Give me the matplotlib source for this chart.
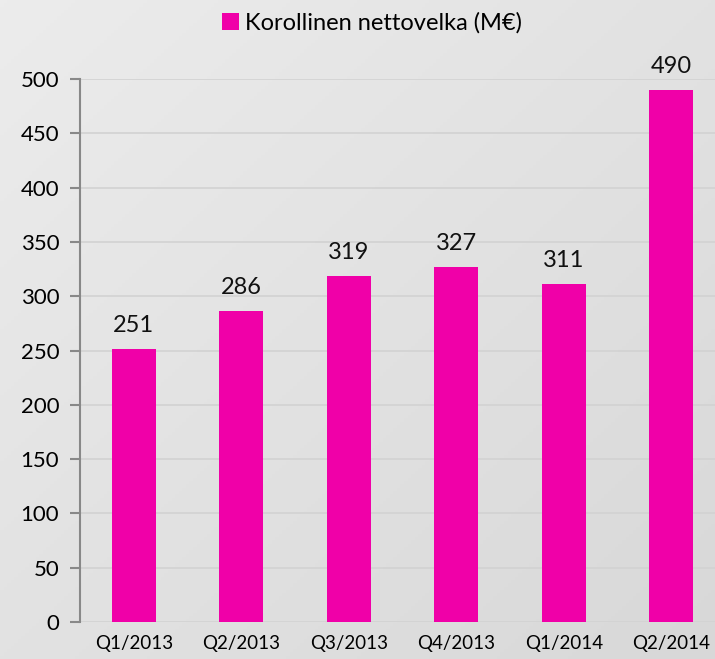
import numpy as np
import matplotlib.pyplot as plt
from matplotlib.colors import LinearSegmentedColormap

quarters = ['Q1/2013', 'Q2/2013', 'Q3/2013', 'Q4/2013', 'Q1/2014', 'Q2/2014']
values = [251, 286, 319, 327, 311, 490]
series_name = 'Korollinen nettovelka (M€)'

plt.rcParams['font.family'] = ['Lato', 'DejaVu Sans']

fig = plt.figure(figsize=(7.15, 6.59), dpi=100)

# light gray gradient background
bg = fig.add_axes([0, 0, 1, 1], zorder=0)
xx, yy = np.meshgrid(np.linspace(0, 1, 200), np.linspace(0, 1, 200))
grad = (xx + yy) / 2
cmap = LinearSegmentedColormap.from_list('bg', ['#ececec', '#d8d8d8'])
bg.imshow(grad, cmap=cmap, aspect='auto', extent=[0, 1, 0, 1], origin='upper')
bg.axis('off')

ax = fig.add_axes([0.112, 0.0561, 0.902, 0.824], zorder=1)
ax.patch.set_alpha(0)
x = np.arange(len(quarters))
bars = ax.bar(x, values, width=0.41, color='#f000a8', label=series_name, zorder=3)
for xi, v in zip(x, values):
    ax.text(xi, v + 12, str(v), ha='center', va='bottom', fontsize=17, color='#111111')

ax.set_ylim(0, 500)
ax.set_xlim(-0.5, 5.5)
ax.set_yticks(range(0, 501, 50))
ax.set_xticks(x)
ax.set_xticklabels(quarters, fontsize=13.5)
ax.tick_params(axis='y', labelsize=16, length=7, width=1.5, color='#888888', pad=8)
ax.tick_params(axis='x', length=0, pad=9)
ax.grid(axis='y', color='#d2d2d2', linewidth=1.2, zorder=0)
for s in ['top', 'right', 'bottom']:
    ax.spines[s].set_visible(False)
ax.spines['left'].set_color('#888888')
ax.spines['left'].set_linewidth(1.5)

fig.legend(handles=[bars], labels=[series_name], loc='center', bbox_to_anchor=(0.52, 0.965),
           frameon=False, fontsize=17, handlelength=0.7, handleheight=0.7, handletextpad=0.25)

fig.savefig('out.png', dpi=100)
